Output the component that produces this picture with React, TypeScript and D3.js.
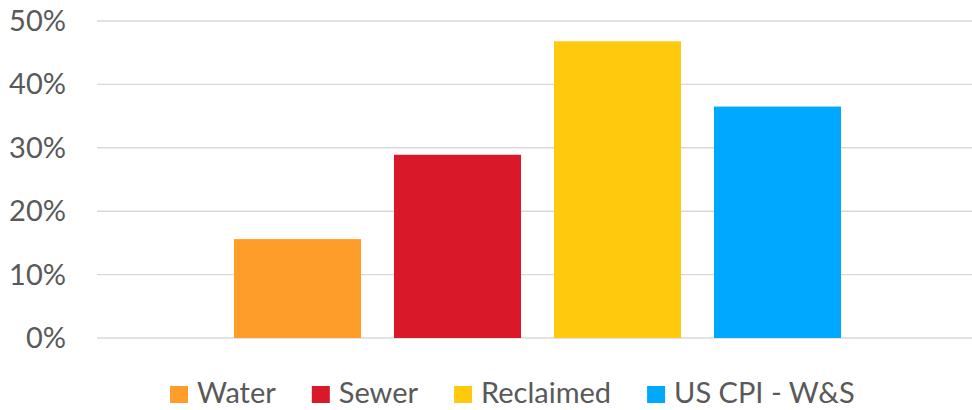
import React, { useEffect, useRef } from 'react';
import * as d3 from 'd3';

const seriesNames = ['Water', 'Sewer', 'Reclaimed', 'US CPI - W&S'];
const seriesValues = [0.156, 0.289, 0.468, 0.365];
const seriesColors = ['#ff9d2a', '#d9192a', '#ffc90e', '#00a8ff'];
const yTicks = [0, 0.1, 0.2, 0.3, 0.4, 0.5];

const App: React.FC = () => {
  const svgRef = useRef<SVGSVGElement | null>(null);

  useEffect(() => {
    if (!svgRef.current) return;
    const svg = d3.select(svgRef.current);
    svg.selectAll('*').remove();

    const width = 972;
    const height = 410;
    const margin = { top: 21, right: 0, bottom: 72, left: 97 };
    const font = 'Lato, "Open Sans", sans-serif';

    const y = d3.scaleLinear()
      .domain([0, 0.5])
      .range([height - margin.bottom, margin.top]);

    // bars sit in a group inside the plot, excel style gap
    const x = d3.scaleBand<string>()
      .domain(seriesNames)
      .range([234, 841])
      .paddingInner(0.206);

    // gridlines
    svg.append('g')
      .selectAll('line')
      .data(yTicks)
      .join('line')
      .attr('x1', margin.left)
      .attr('x2', width - margin.right)
      .attr('y1', d => y(d))
      .attr('y2', d => y(d))
      .attr('stroke', '#d9d9d9')
      .attr('stroke-width', 1.4);

    // y labels
    const fmt = d3.format('.0%');
    svg.append('g')
      .selectAll('text')
      .data(yTicks)
      .join('text')
      .attr('x', 66)
      .attr('y', d => y(d) + 10)
      .attr('text-anchor', 'end')
      .style('font', `29px ${font}`)
      .attr('fill', '#595959')
      .text(d => fmt(d));

    // bars
    svg.append('g')
      .selectAll('rect')
      .data(seriesValues)
      .join('rect')
      .attr('x', (d, i) => x(seriesNames[i]) as number)
      .attr('width', x.bandwidth())
      .attr('y', d => y(d))
      .attr('height', d => y(0) - y(d))
      .attr('fill', (d, i) => seriesColors[i]);

    // legend
    const legend = svg.append('g');
    let lx = 170;
    seriesNames.forEach((name, i) => {
      legend.append('rect')
        .attr('x', lx)
        .attr('y', 386)
        .attr('width', 18)
        .attr('height', 17)
        .attr('fill', seriesColors[i]);
      const t = legend.append('text')
        .attr('x', lx + 27)
        .attr('y', 403)
        .style('font', `29px ${font}`)
        .attr('fill', '#595959')
        .text(name);
      const w = (t.node() as SVGTextElement).getComputedTextLength();
      lx = lx + 27 + w + 36;
    });
  }, []);

  return (
    <svg
      ref={svgRef}
      width={972}
      height={410}
      style={{ position: 'absolute', left: 0, top: 0, background: '#fff' }}
    ></svg>
  );
};

export default App;
